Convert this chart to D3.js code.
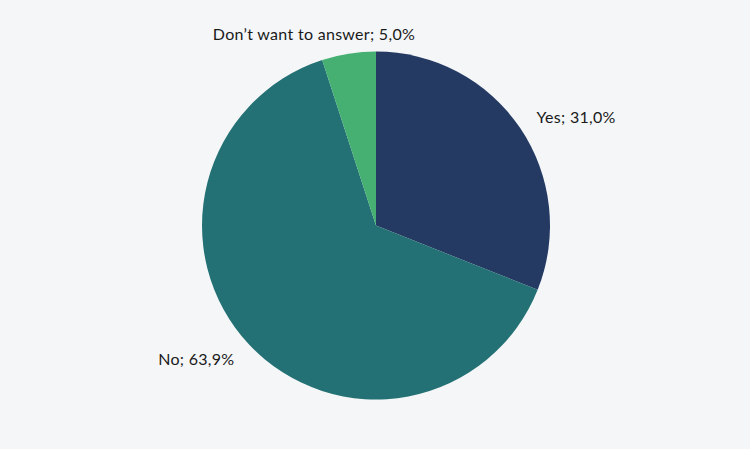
<!DOCTYPE html>
<html><head><meta charset="utf-8">
<script src="https://cdn.jsdelivr.net/npm/d3@7"></script>
<style>
html,body{margin:0;padding:0;background:#f4f6f8;}
svg{display:block;}
</style></head>
<body><svg id="chart" width="750" height="449"></svg>
<script>
const categories = ["Yes", "No", "Don\u2019t want to answer"];
const values = [31.0, 63.9, 5.0];
const colors = ["#243a63", "#237174", "#45b072"];

const W = 750, H = 449, cx = 376, cy = 225.5, R = 174;
const svg = d3.select("#chart");
svg.append("rect").attr("width", W).attr("height", H).attr("fill", "#f4f6f8");

const data = categories.map((c, i) => ({name: c, value: values[i], color: colors[i]}));
const pie = d3.pie().sort(null).value(d => d.value);
const arcs = pie(data);
const arc = d3.arc().innerRadius(0).outerRadius(R);
const g = svg.append("g").attr("transform", `translate(${cx},${cy})`);
g.selectAll("path").data(arcs).enter().append("path")
  .attr("d", arc).attr("fill", d => d.data.color);

const fmt = v => v.toFixed(1).replace(".", ",") + "%";
const LR = R + 20;
arcs.forEach(a => {
  const m = (a.startAngle + a.endAngle) / 2;
  const px = LR * Math.sin(m), py = -LR * Math.cos(m);
  const t = g.append("text")
    .attr("font-family", "Lato, 'Open Sans', sans-serif")
    .attr("font-size", 16)
    .attr("letter-spacing", 0.3)
    .attr("fill", "#1a1a1a")
    .attr("dominant-baseline", "central")
    .attr("text-anchor", "middle")
    .text(a.data.name + "; " + fmt(a.data.value));
  const w = t.node().getComputedTextLength();
  const s = Math.max(-1, Math.min(1, Math.sin(m) * 2));
  t.attr("x", px + (w / 2) * s).attr("y", py);
});
</script></body></html>
